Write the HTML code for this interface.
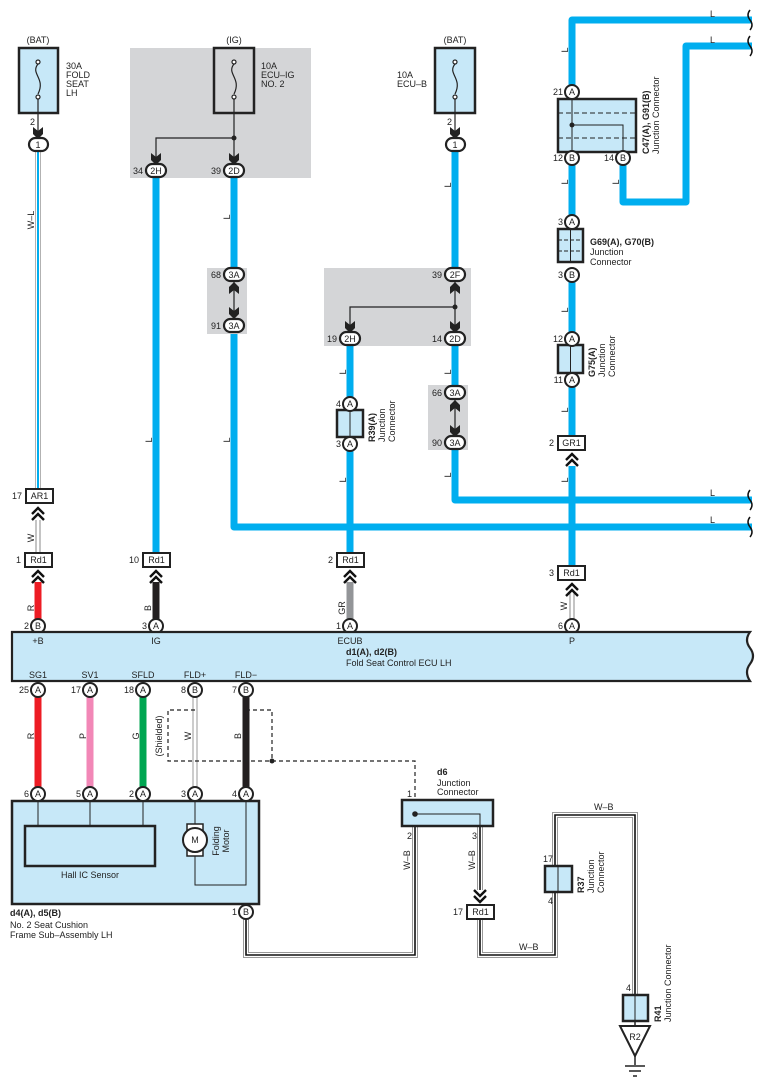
<!DOCTYPE html>
<html><head><meta charset="utf-8"><style>
html,body{margin:0;padding:0;background:#fff}
svg{display:block}
text{font-family:"Liberation Sans",sans-serif;font-size:9px;fill:#222}
.b{font-weight:bold}
</style></head><body>
<svg width="765" height="1088" viewBox="0 0 765 1088" xmlns="http://www.w3.org/2000/svg">
<defs>
<g id="chev"><polyline points="-6,6 0,0 6,6" fill="none" stroke="#111" stroke-width="2.4"/><polyline points="-6,12 0,6 6,12" fill="none" stroke="#111" stroke-width="2.4"/></g>
<g id="arrD"><path d="M-5,-7 L0,-3 L5,-7 L5,0 L0,5 L-5,0 Z" fill="#222"/></g>
<g id="arrU"><path d="M-5,7 L0,3 L5,7 L5,0 L0,-5 L-5,0 Z" fill="#222"/></g>
</defs>

<rect x="130" y="48" width="181" height="130" fill="#d4d5d7"/>
<rect x="207" y="268" width="40" height="66" fill="#d4d5d7"/>
<rect x="324" y="268" width="147" height="78" fill="#d4d5d7"/>
<rect x="428" y="385" width="40" height="65" fill="#d4d5d7"/>

<g fill="none" stroke="#00aeef" stroke-width="7" stroke-linejoin="round">
<line x1="156" y1="178" x2="156" y2="553"/>
<polyline points="234,178 234,268"/>
<polyline points="234,334 234,527 752,527"/>
<polyline points="455,152 455,268"/>
<polyline points="350,346 350,553"/>
<polyline points="455,346 455,385"/>
<polyline points="455,450 455,500 752,500"/>
<polyline points="752,20 572,20 572,85"/>
<polyline points="572,165 572,215"/>
<polyline points="623,165 623,202 686,202 686,46 752,46"/>
<polyline points="572,282 572,332"/>
<polyline points="572,387 572,436"/>
<polyline points="572,466 572,566"/>
</g>
<g fill="none" stroke="#111" stroke-width="1.5">
<path d="M750,10 q-4,5 0,10 q4,5 0,10"/>
<path d="M750,36 q-4,5 0,10 q4,5 0,10"/>
<path d="M750,490 q-4,5 0,10 q4,5 0,10"/>
<path d="M750,517 q-4,5 0,10 q4,5 0,10"/>
</g>

<line x1="38" y1="152" x2="38" y2="488" stroke="#999" stroke-width="6"/>
<line x1="38" y1="152" x2="38" y2="488" stroke="#fff" stroke-width="4.5"/>
<line x1="38" y1="152" x2="38" y2="488" stroke="#00aeef" stroke-width="2"/>
<g>
<line x1="38" y1="520" x2="38" y2="553" stroke="#888" stroke-width="5"/>
<line x1="38" y1="520" x2="38" y2="553" stroke="#fff" stroke-width="3"/>
<line x1="572" y1="593" x2="572" y2="619" stroke="#888" stroke-width="5"/>
<line x1="572" y1="593" x2="572" y2="619" stroke="#fff" stroke-width="3"/>
<line x1="195" y1="697" x2="195" y2="787" stroke="#999" stroke-width="5"/>
<line x1="195" y1="697" x2="195" y2="787" stroke="#fff" stroke-width="3"/>
</g>
<line x1="38" y1="582" x2="38" y2="619" stroke="#ed1c24" stroke-width="7"/>
<line x1="156" y1="582" x2="156" y2="619" stroke="#231f20" stroke-width="7"/>
<line x1="350" y1="582" x2="350" y2="619" stroke="#939598" stroke-width="7"/>
<line x1="38" y1="697" x2="38" y2="787" stroke="#ed1c24" stroke-width="7"/>
<line x1="90" y1="697" x2="90" y2="787" stroke="#f287b7" stroke-width="7"/>
<line x1="143" y1="697" x2="143" y2="787" stroke="#00a651" stroke-width="7"/>
<line x1="246" y1="697" x2="246" y2="787" stroke="#231f20" stroke-width="7"/>

<g fill="none" stroke-linejoin="miter">
<polyline points="246,919 246,955 415,955 415,827" stroke="#999" stroke-width="6"/>
<polyline points="246,919 246,955 415,955 415,827" stroke="#fff" stroke-width="4"/>
<polyline points="246,919 246,955 415,955 415,827" stroke="#111" stroke-width="1.6"/>
<polyline points="480,827 480,890" stroke="#999" stroke-width="6"/>
<polyline points="480,827 480,890" stroke="#fff" stroke-width="4"/>
<polyline points="480,827 480,890" stroke="#111" stroke-width="1.6"/>
<polyline points="480,919 480,955 555,955 555,815 635,815 635,995" stroke="#999" stroke-width="6"/>
<polyline points="480,919 480,955 555,955 555,815 635,815 635,995" stroke="#fff" stroke-width="4"/>
<polyline points="480,919 480,955 555,955 555,815 635,815 635,995" stroke="#111" stroke-width="1.6"/>
</g>

<g stroke="#222" stroke-width="2.5">
<rect x="19" y="48" width="39" height="65" fill="#c7e8f8"/>
<rect x="214" y="48" width="40" height="65" fill="none"/>
<rect x="435" y="48" width="40" height="65" fill="#c7e8f8"/>
</g>
<g fill="none" stroke="#222" stroke-width="1.2">
<path d="M38,64 c-8,10 8,14 0,30"/><circle cx="38" cy="62" r="2" fill="#fff"/><circle cx="38" cy="97" r="2" fill="#fff"/>
<path d="M234,64 c-8,10 8,14 0,30"/><circle cx="234" cy="62" r="2" fill="#fff"/><circle cx="234" cy="97" r="2" fill="#fff"/>
<path d="M455,64 c-8,10 8,14 0,30"/><circle cx="455" cy="62" r="2" fill="#fff"/><circle cx="455" cy="97" r="2" fill="#fff"/>
<line x1="38" y1="99" x2="38" y2="132"/>
<line x1="455" y1="99" x2="455" y2="132"/>
<polyline points="234,99 234,160"/><polyline points="234,138 156,138 156,160"/>
<polyline points="234,282 234,319"/>
<polyline points="455,282 455,332"/><polyline points="455,307 350,307 350,332"/>
<polyline points="455,400 455,436"/>
</g>
<circle cx="234" cy="138" r="2.5" fill="#222"/>
<circle cx="455" cy="307" r="2.5" fill="#222"/>
<use href="#arrD" x="38" y="134"/>
<use href="#arrD" x="455" y="134"/>
<use href="#arrD" x="156" y="160"/>
<use href="#arrD" x="234" y="160"/>
<use href="#arrU" x="234" y="287"/>
<use href="#arrD" x="234" y="314"/>
<use href="#arrU" x="455" y="287"/>
<use href="#arrD" x="350" y="328"/>
<use href="#arrD" x="455" y="328"/>
<use href="#arrU" x="455" y="405"/>
<use href="#arrD" x="455" y="432"/>

<g stroke="#222" stroke-width="2.2" fill="#fff">
<rect x="29" y="138" width="19" height="13" rx="6.5"/>
<rect x="446" y="138" width="19" height="13" rx="6.5"/>
<rect x="146" y="164" width="20" height="13" rx="6.5"/>
<rect x="224" y="164" width="20" height="13" rx="6.5"/>
<rect x="224" y="268" width="20" height="13" rx="6.5"/>
<rect x="224" y="319" width="20" height="13" rx="6.5"/>
<rect x="445" y="268" width="20" height="13" rx="6.5"/>
<rect x="340" y="332" width="20" height="13" rx="6.5"/>
<rect x="445" y="332" width="20" height="13" rx="6.5"/>
<rect x="445" y="386" width="20" height="13" rx="6.5"/>
<rect x="445" y="436" width="20" height="13" rx="6.5"/>
</g>
<g text-anchor="middle">
<text x="38" y="148">1</text><text x="455" y="148">1</text>
<text x="156" y="174">2H</text><text x="234" y="174">2D</text>
<text x="234" y="278">3A</text><text x="234" y="329">3A</text>
<text x="455" y="278">2F</text><text x="350" y="342">2H</text><text x="455" y="342">2D</text>
<text x="455" y="396">3A</text><text x="455" y="446">3A</text>
</g>
<g text-anchor="end">
<text x="35" y="125">2</text><text x="452" y="125">2</text>
<text x="143" y="174">34</text><text x="221" y="174">39</text>
<text x="221" y="278">68</text><text x="221" y="329">91</text>
<text x="442" y="278">39</text><text x="337" y="342">19</text><text x="442" y="342">14</text>
<text x="442" y="396">66</text><text x="442" y="446">90</text>
</g>

<text x="38" y="43" text-anchor="middle">(BAT)</text>
<text x="234" y="43" text-anchor="middle">(IG)</text>
<text x="455" y="43" text-anchor="middle">(BAT)</text>
<text x="66" y="69">30A</text><text x="66" y="78">FOLD</text><text x="66" y="87">SEAT</text><text x="66" y="96">LH</text>
<text x="261" y="69">10A</text><text x="261" y="78">ECU–IG</text><text x="261" y="87">NO. 2</text>
<text x="397" y="78">10A</text><text x="397" y="87">ECU–B</text>

<g stroke="#222" stroke-width="2.5" fill="#c7e8f8">
<rect x="558" y="99" width="78" height="53"/>
<rect x="558" y="229" width="25" height="33"/>
<rect x="558" y="345" width="25" height="28"/>
<rect x="337" y="410" width="26" height="27"/>
<rect x="402" y="800" width="91" height="26"/>
<rect x="545" y="866" width="27" height="26"/>
<rect x="623" y="995" width="25" height="26"/>
<rect x="12" y="801" width="247" height="103"/>
<rect x="25" y="826" width="130" height="40" fill="none"/>
</g>
<g stroke="#222" stroke-width="1" fill="none">
<line x1="558" y1="113" x2="636" y2="113" stroke-dasharray="5,3"/>
<line x1="558" y1="138" x2="636" y2="138" stroke-dasharray="5,3"/>
<line x1="572" y1="99" x2="572" y2="152"/>
<polyline points="572,125 623,125 623,152"/>
<line x1="558" y1="240" x2="583" y2="240" stroke-dasharray="4,2"/>
<line x1="558" y1="251" x2="583" y2="251" stroke-dasharray="4,2"/>
<line x1="570.5" y1="229" x2="570.5" y2="262"/>
<line x1="570.5" y1="345" x2="570.5" y2="373"/>
<line x1="350" y1="410" x2="350" y2="437"/>
<polyline points="415,814 480,814 480,826"/>
<line x1="558" y1="866" x2="558" y2="892"/>
<line x1="635" y1="995" x2="635" y2="1021"/>
<line x1="38" y1="801" x2="38" y2="826"/><line x1="90" y1="801" x2="90" y2="826"/><line x1="143" y1="801" x2="143" y2="826"/>
<polyline points="195,801 195,885 246,885 246,801"/>
</g>
<circle cx="572" cy="125" r="2.5" fill="#222"/>
<circle cx="415" cy="814" r="2.8" fill="#222"/>
<rect x="187" y="824" width="16" height="32" fill="#fff" stroke="#222" stroke-width="1.5"/>
<circle cx="195" cy="840" r="12" fill="#fff" stroke="#222" stroke-width="2"/>
<text x="195" y="843" text-anchor="middle">M</text>
<text transform="translate(219,841) rotate(-90)" text-anchor="middle">Folding</text>
<text transform="translate(229,841) rotate(-90)" text-anchor="middle">Motor</text>
<text x="90" y="878" text-anchor="middle">Hall IC Sensor</text>

<g stroke="#222" stroke-width="2" fill="#fff">
<circle cx="572" cy="92" r="7"/><circle cx="572" cy="158" r="7"/><circle cx="623" cy="158" r="7"/>
<circle cx="572" cy="222" r="7"/><circle cx="572" cy="275" r="7"/>
<circle cx="572" cy="339" r="7"/><circle cx="572" cy="380" r="7"/>
<circle cx="350" cy="404" r="7"/><circle cx="350" cy="444" r="7"/>
<circle cx="38" cy="626" r="7"/><circle cx="156" cy="626" r="7"/><circle cx="350" cy="626" r="7"/><circle cx="572" cy="626" r="7"/>
<circle cx="38" cy="690" r="7"/><circle cx="90" cy="690" r="7"/><circle cx="143" cy="690" r="7"/><circle cx="195" cy="690" r="7"/><circle cx="246" cy="690" r="7"/>
<circle cx="38" cy="794" r="7"/><circle cx="90" cy="794" r="7"/><circle cx="143" cy="794" r="7"/><circle cx="195" cy="794" r="7"/><circle cx="246" cy="794" r="7"/>
<circle cx="246" cy="912" r="7"/>
</g>
<g text-anchor="middle" font-size="9">
<text x="572" y="95">A</text><text x="572" y="161">B</text><text x="623" y="161">B</text>
<text x="572" y="225">A</text><text x="572" y="278">B</text>
<text x="572" y="342">A</text><text x="572" y="383">A</text>
<text x="350" y="407">A</text><text x="350" y="447">A</text>
<text x="38" y="629">B</text><text x="156" y="629">A</text><text x="350" y="629">A</text><text x="572" y="629">A</text>
<text x="38" y="693">A</text><text x="90" y="693">A</text><text x="143" y="693">A</text><text x="195" y="693">B</text><text x="246" y="693">B</text>
<text x="38" y="797">A</text><text x="90" y="797">A</text><text x="143" y="797">A</text><text x="195" y="797">A</text><text x="246" y="797">A</text>
<text x="246" y="915">B</text>
</g>
<g text-anchor="end">
<text x="563" y="95">21</text><text x="563" y="161">12</text><text x="614" y="161">14</text>
<text x="563" y="225">3</text><text x="563" y="278">3</text>
<text x="563" y="342">12</text><text x="563" y="383">11</text>
<text x="341" y="407">4</text><text x="341" y="447">3</text>
<text x="29" y="629">2</text><text x="147" y="629">3</text><text x="341" y="629">1</text><text x="563" y="629">6</text>
<text x="29" y="693">25</text><text x="81" y="693">17</text><text x="134" y="693">18</text><text x="186" y="693">8</text><text x="237" y="693">7</text>
<text x="29" y="797">6</text><text x="81" y="797">5</text><text x="134" y="797">2</text><text x="186" y="797">3</text><text x="237" y="797">4</text>
<text x="237" y="915">1</text>
<text x="412" y="797">1</text><text x="412" y="839">2</text><text x="477" y="839">3</text>
<text x="553" y="862">17</text><text x="553" y="904">4</text><text x="631" y="991">4</text>
</g>

<text class="b" transform="translate(649,154) rotate(-90)">C47(A), G91(B)</text>
<text transform="translate(659,154) rotate(-90)">Junction Connector</text>
<text class="b" x="590" y="245">G69(A), G70(B)</text>
<text x="590" y="255">Junction</text><text x="590" y="265">Connector</text>
<text class="b" transform="translate(595,377) rotate(-90)">G75(A)</text>
<text transform="translate(605,377) rotate(-90)">Junction</text>
<text transform="translate(615,377) rotate(-90)">Connector</text>
<text class="b" transform="translate(375,442) rotate(-90)">R39(A)</text>
<text transform="translate(385,442) rotate(-90)">Junction</text>
<text transform="translate(395,442) rotate(-90)">Connector</text>
<text class="b" transform="translate(584,893) rotate(-90)">R37</text>
<text transform="translate(594,893) rotate(-90)">Junction</text>
<text transform="translate(604,893) rotate(-90)">Connector</text>
<text class="b" transform="translate(661,1022) rotate(-90)">R41</text>
<text transform="translate(671,1022) rotate(-90)">Junction Connector</text>
<text class="b" x="437" y="775">d6</text>
<text x="437" y="786">Junction</text><text x="437" y="795">Connector</text>

<g stroke="#222" stroke-width="2" fill="#fff">
<rect x="26" y="489" width="27" height="14"/>
<rect x="25" y="553" width="27" height="14"/>
<rect x="143" y="553" width="27" height="14"/>
<rect x="337" y="553" width="27" height="14"/>
<rect x="558" y="436" width="27" height="14"/>
<rect x="558" y="566" width="27" height="14"/>
<rect x="467" y="905" width="27" height="14"/>
</g>
<g text-anchor="middle">
<text x="39.5" y="499">AR1</text><text x="38.5" y="563">Rd1</text><text x="156.5" y="563">Rd1</text><text x="350.5" y="563">Rd1</text>
<text x="571.5" y="446">GR1</text><text x="571.5" y="576">Rd1</text><text x="480.5" y="915">Rd1</text>
</g>
<g text-anchor="end">
<text x="22" y="499">17</text><text x="21" y="563">1</text><text x="139" y="563">10</text><text x="333" y="563">2</text>
<text x="554" y="446">2</text><text x="554" y="576">3</text><text x="463" y="915">17</text>
</g>
<use href="#chev" x="38" y="508"/>
<use href="#chev" x="38" y="571"/>
<use href="#chev" x="156" y="571"/>
<use href="#chev" x="350" y="571"/>
<use href="#chev" x="572" y="454"/>
<use href="#chev" x="572" y="584"/>
<g transform="translate(480,902) scale(1,-1)"><use href="#chev"/></g>

<path d="M12,632 L750,632 q-6,8 0,16 q6,8 0,16 q-6,8 0,17 L12,681 Z" fill="#c7e8f8" stroke="#222" stroke-width="2.2"/>
<g text-anchor="middle">
<text x="38" y="644">+B</text><text x="156" y="644">IG</text><text x="350" y="644">ECUB</text><text x="572" y="644">P</text>
<text x="38" y="678">SG1</text><text x="90" y="678">SV1</text><text x="143" y="678">SFLD</text><text x="195" y="678">FLD+</text><text x="246" y="678">FLD−</text>
</g>
<text class="b" x="346" y="655">d1(A), d2(B)</text>
<text x="346" y="666">Fold Seat Control ECU LH</text>

<g fill="none" stroke="#222" stroke-width="1.2" stroke-dasharray="4,3">
<polyline points="195,710 168,710 168,761 415,761 415,800"/>
<polyline points="246,710 272,710 272,761"/>
</g>
<circle cx="272" cy="761" r="2.5" fill="#222"/>
<text transform="translate(162,736) rotate(-90)" text-anchor="middle">(Shielded)</text>

<text class="b" x="10" y="916">d4(A), d5(B)</text>
<text x="10" y="928">No.  2 Seat Cushion</text>
<text x="10" y="938">Frame Sub–Assembly LH</text>

<line x1="635" y1="1021" x2="635" y2="1026" stroke="#222" stroke-width="1.5"/>
<path d="M620,1026 L650,1026 L635,1056 Z" fill="#fff" stroke="#222" stroke-width="2"/>
<text x="635" y="1040" text-anchor="middle">R2</text>
<line x1="635" y1="1056" x2="635" y2="1065" stroke="#222" stroke-width="1.5"/>
<line x1="625" y1="1066" x2="645" y2="1066" stroke="#222" stroke-width="1.5"/>
<line x1="629" y1="1071" x2="641" y2="1071" stroke="#222" stroke-width="1.5"/>
<line x1="633" y1="1076" x2="637" y2="1076" stroke="#222" stroke-width="1.5"/>

<g>
<text transform="translate(34,220) rotate(-90)" text-anchor="middle">W–L</text>
<text transform="translate(34,538) rotate(-90)" text-anchor="middle">W</text>
<text transform="translate(34,608) rotate(-90)" text-anchor="middle">R</text>
<text transform="translate(151,608) rotate(-90)" text-anchor="middle">B</text>
<text transform="translate(345,608) rotate(-90)" text-anchor="middle">GR</text>
<text transform="translate(567,606) rotate(-90)" text-anchor="middle">W</text>
<text transform="translate(34,736) rotate(-90)" text-anchor="middle">R</text>
<text transform="translate(86,736) rotate(-90)" text-anchor="middle">P</text>
<text transform="translate(139,736) rotate(-90)" text-anchor="middle">G</text>
<text transform="translate(191,736) rotate(-90)" text-anchor="middle">W</text>
<text transform="translate(241,736) rotate(-90)" text-anchor="middle">B</text>
<text transform="translate(410,860) rotate(-90)" text-anchor="middle">W–B</text>
<text transform="translate(475,860) rotate(-90)" text-anchor="middle">W–B</text>
<text x="519" y="950">W–B</text>
<text x="594" y="810">W–B</text>
<text x="710" y="17">L</text><text x="710" y="43">L</text>
<text x="710" y="496">L</text><text x="710" y="523">L</text>
</g>
<g text-anchor="middle">
<text transform="translate(230,217) rotate(-90)">L</text>
<text transform="translate(152,440) rotate(-90)">L</text>
<text transform="translate(230,440) rotate(-90)">L</text>
<text transform="translate(346,372) rotate(-90)">L</text>
<text transform="translate(451,372) rotate(-90)">L</text>
<text transform="translate(451,185) rotate(-90)">L</text>
<text transform="translate(346,480) rotate(-90)">L</text>
<text transform="translate(451,475) rotate(-90)">L</text>
<text transform="translate(568,50) rotate(-90)">L</text>
<text transform="translate(568,182) rotate(-90)">L</text>
<text transform="translate(619,182) rotate(-90)">L</text>
<text transform="translate(568,310) rotate(-90)">L</text>
<text transform="translate(568,410) rotate(-90)">L</text>
<text transform="translate(568,480) rotate(-90)">L</text>
</g>
</svg>
</body></html>
